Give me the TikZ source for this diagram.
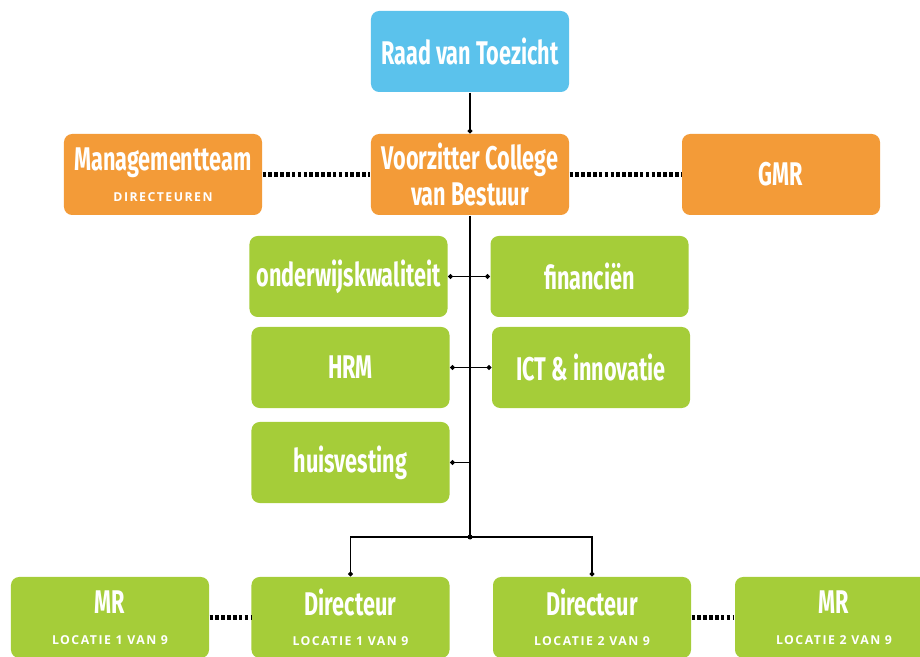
\documentclass[tikz,border=0pt]{standalone}
\usepackage{fontspec}
\usepackage{xcolor}
\usetikzlibrary{arrows.meta}
\newfontfamily\kopfont{Fira Sans}[FakeStretch=0.66]
\newfontfamily\ondfont{Open Sans}[LetterSpace=12]
\definecolor{raadblauw}{HTML}{5BC2EC}
\definecolor{oranje}{HTML}{F39B38}
\definecolor{groen}{HTML}{A5CD39}
\newcommand{\onder}[1]{\\[-4pt]{\ondfont\bfseries\fontsize{10.5}{12}\selectfont #1}}

\begin{document}
\begin{tikzpicture}[x=0.03cm,y=-0.03cm,line width=1pt,
   blok/.style={rounded corners=7pt,minimum width=5.94cm,minimum height=2.43cm,inner sep=1pt,
     align=center,text=white,font=\kopfont\bfseries\fontsize{28}{30}\selectfont},
   raad/.style={blok,fill=raadblauw},
   bestuur/.style={blok,fill=oranje},
   staf/.style={blok,fill=groen},
   stippel/.style={line width=3.5pt,dash pattern=on 3pt off 2pt},
   tak/.style={-{Circle[length=4pt]}}]

  \useasboundingbox (0,0) rectangle (920,657);

  \node[raad] (raad) at (470,51.5) {Raad van Toezicht};
  \node[bestuur] (cvb) at (470,174.5) {Voorzitter College\\van Bestuur};
  \node[bestuur] (mt) at (163,174.5) {Managementteam\onder{DIRECTEUREN}};
  \node[bestuur] (gmr) at (781,174.5) {GMR};

  \node[staf] (owk) at (348.5,276.5) {onderwijskwaliteit};
  \node[staf] (fin) at (589.5,276.5) {financiën};
  \node[staf] (hrm) at (350.5,367.5) {HRM};
  \node[staf] (ict) at (591,367.5) {ICT \& innovatie};
  \node[staf] (huis) at (350.5,462.5) {huisvesting};

  \node[staf] (mr1) at (110,617.5) {MR\onder{LOCATIE 1 VAN 9}};
  \node[staf] (dir1) at (350.5,617.5) {Directeur\onder{LOCATIE 1 VAN 9}};
  \node[staf] (dir2) at (592,617.5) {Directeur\onder{LOCATIE 2 VAN 9}};
  \node[staf] (mr2) at (834,617.5) {MR\onder{LOCATIE 2 VAN 9}};

  \coordinate (splits) at (470,537);

  \draw[tak] (raad) -- (cvb);
  \draw (cvb) -- (splits);
  \fill (splits) circle (2.5);
  \draw[{Circle[length=4pt]}-{Circle[length=4pt]}] (owk) -- (fin);
  \draw[{Circle[length=4pt]}-{Circle[length=4pt]}] (hrm) -- (ict);
  \draw[tak] (cvb |- huis) -- (huis);
  \foreach \naar in {dir1,dir2} \draw[tak] (splits) -| (\naar);

  \foreach \van/\naar in {mt/cvb,cvb/gmr,mr1/dir1,dir2/mr2} \draw[stippel] (\van) -- (\naar);
\end{tikzpicture}
\end{document}
